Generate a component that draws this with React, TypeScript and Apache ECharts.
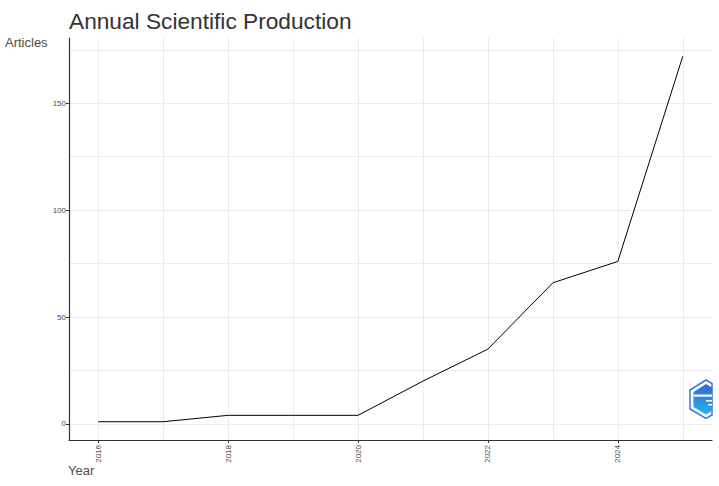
import React, { useEffect, useRef } from "react";
import * as echarts from "echarts";

const years = [2016, 2017, 2018, 2019, 2020, 2021, 2022, 2023, 2024, 2025];
const articles = [1, 1, 4, 4, 4, 20, 35, 66, 76, 172];
const xTickLabels = [2016, 2018, 2020, 2022, 2024];
const yTickLabels = [0, 50, 100, 150];
const xGridValues = [2016, 2017, 2018, 2019, 2020, 2021, 2022, 2023, 2024, 2025];
const yGridValues = [0, 25, 50, 75, 100, 125, 150, 175];

const FONT = "'Liberation Sans', Arial, sans-serif";

export default function App() {
  const ref = useRef<HTMLDivElement>(null);
  useEffect(() => {
    document.body.style.margin = "0";
    const chart = echarts.init(ref.current!, null, { renderer: "svg" });
    const xMin = years[0] - (years[years.length - 1] - years[0]) * 0.05;
    const xMax = years[years.length - 1] + (years[years.length - 1] - years[0]) * 0.05;
    const dMin = Math.min(...articles);
    const dMax = Math.max(...articles);
    const yMin = dMin - (dMax - dMin) * 0.05;
    const yMax = dMax + (dMax - dMin) * 0.05;
    const gridStyle = { color: "#ebebeb", width: 1, type: "solid" as const };
    const left = 69, right = 7, top = 38, bottom = 46;
    chart.setOption({
      animation: false,
      textStyle: { fontFamily: FONT },
      title: {
        text: "Annual Scientific Production",
        left: 64,
        top: 4,
        textStyle: { fontFamily: FONT, fontSize: 22.7, fontWeight: "normal", color: "#333333" },
      },
      grid: { left, right, top, bottom, containLabel: false },
      xAxis: {
        type: "value",
        z: 4,
        min: xMin,
        max: xMax,
        splitLine: { show: false },
        axisLine: { show: true, onZero: false, lineStyle: { color: "#333333", width: 1.2 } },
        axisTick: { show: true, customValues: xTickLabels, length: 3, lineStyle: { color: "#333333" } },
        axisLabel: {
          customValues: xTickLabels,
          rotate: 90,
          fontSize: 8,
          color: "#4d4d4d",
          margin: 5,
          fontFamily: FONT,
          formatter: (v: number) => String(Math.round(v)),
        },
      },
      yAxis: {
        type: "value",
        z: 4,
        min: yMin,
        max: yMax,
        splitLine: { show: false },
        axisLine: { show: true, onZero: false, lineStyle: { color: "#333333", width: 1.2 } },
        axisTick: { show: true, customValues: yTickLabels, length: 3, lineStyle: { color: "#333333" } },
        axisLabel: {
          customValues: yTickLabels,
          fontSize: 8,
          color: "#4d4d4d",
          margin: 3,
          fontFamily: FONT,
          formatter: (v: number) => String(Math.round(v)),
        },
      },
      graphic: [
        {
          type: "text",
          left: 5,
          top: 36,
          style: { text: "Articles", fontSize: 13, fill: "#4d4d4d", fontFamily: FONT },
        },
        {
          type: "text",
          left: 68,
          top: 464,
          style: { text: "Year", fontSize: 13, fill: "#4d4d4d", fontFamily: FONT },
        },
        {
          type: "group",
          z: 100,
          children: [
            {
              type: "polygon",
              shape: { points: [[706, 380], [712, 383.5], [712, 415], [706, 418.5], [690, 409], [690, 390]] },
              style: { fill: "#ffffff", stroke: "#2f7be6", lineWidth: 1.5 },
            },
            {
              type: "polygon",
              shape: { points: [[706, 384], [712, 387.5], [712, 411], [706, 414.5], [693.5, 407], [693.5, 392]] },
              style: {
                fill: new echarts.graphic.LinearGradient(0, 0, 0, 1, [
                  { offset: 0, color: "#3c63d4" },
                  { offset: 1, color: "#1fb4f2" },
                ]),
              },
            },
            {
              type: "rect",
              shape: { x: 694, y: 394.5, width: 18, height: 2.2 },
              style: { fill: "#ffffff" },
            },
            {
              type: "rect",
              shape: { x: 706, y: 400, width: 6, height: 1.5 },
              style: { fill: "#ffffff" },
            },
            {
              type: "rect",
              shape: { x: 708, y: 404, width: 4, height: 1.5 },
              style: { fill: "#ffffff" },
            },
          ],
        },
      ],
      series: [
        {
          type: "line",
          z: 1,
          data: years.map((y, i) => [y, articles[i]]),
          showSymbol: false,
          lineStyle: { opacity: 0 },
          silent: true,
          markLine: {
            z: 1,
            silent: true,
            symbol: "none",
            label: { show: false },
            lineStyle: gridStyle,
            data: [
              ...xGridValues.map((v) => ({ xAxis: v })),
              ...yGridValues.map((v) => ({ yAxis: v })),
            ],
          },
        },
        {
          type: "line",
          z: 10,
          data: years.map((y, i) => [y, articles[i]]),
          showSymbol: false,
          symbol: "none",
          lineStyle: { color: "#000000", width: 1 },
        },
      ],
    });
    return () => chart.dispose();
  }, []);
  return <div ref={ref} style={{ width: 719, height: 486 }} />;
}
